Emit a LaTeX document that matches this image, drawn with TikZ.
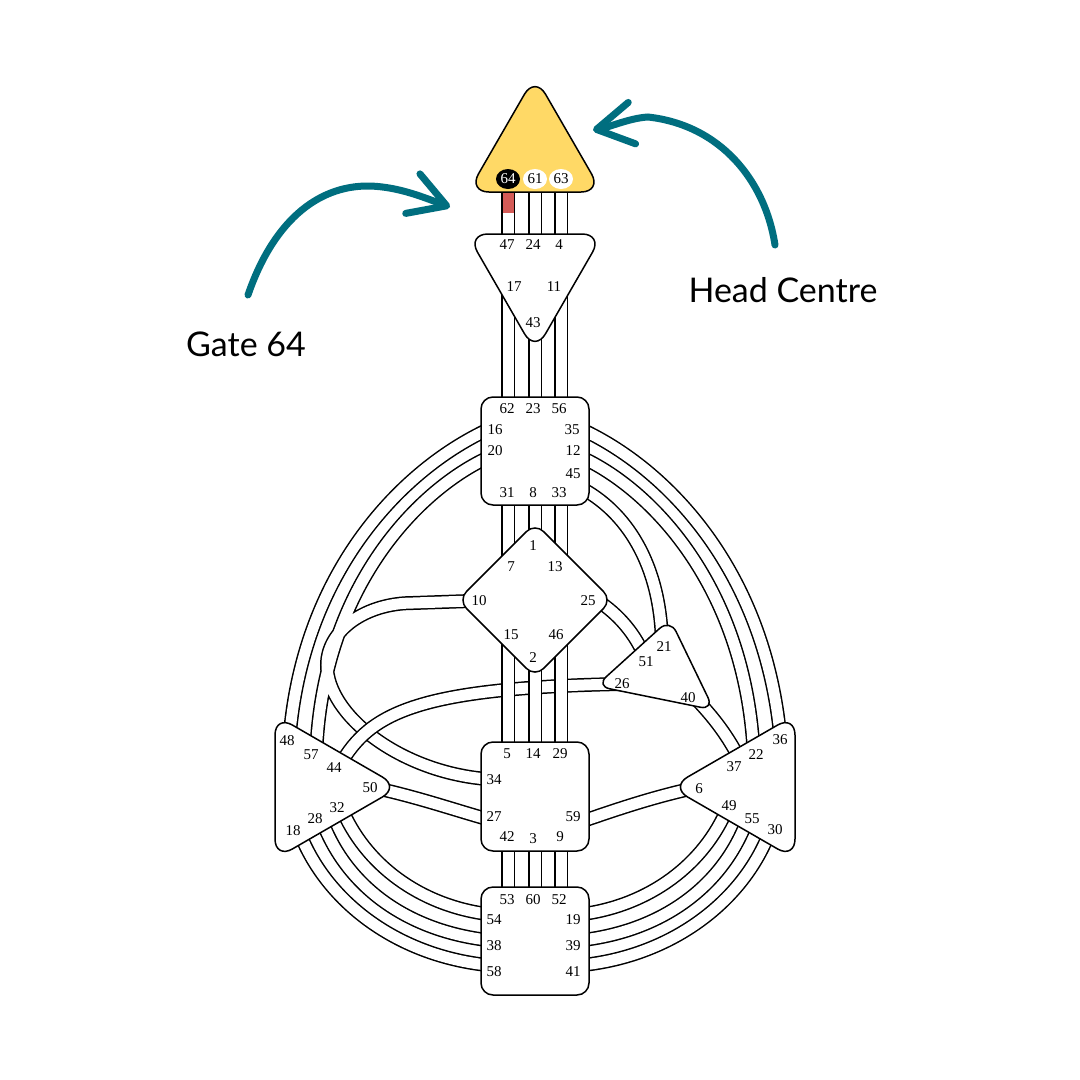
\documentclass[tikz,border=0pt]{standalone}
\usepackage{fontspec}
\setmainfont{Lato}
\newfontfamily\gatefont{Liberation Serif}
\usetikzlibrary{arrows.meta,shapes.geometric}
\definecolor{HeadYellow}{HTML}{FFD966}
\definecolor{Teal}{HTML}{006E7F}
\definecolor{Active}{HTML}{D45B57}
\tikzset{
  chan/.style={draw=black,line width=1.5pt,double=white,double distance=11pt},
  centre/.style={draw=black,line width=1.5pt,fill=white,rounded corners=12pt},
  gate/.style={font=\gatefont\fontsize{15}{15}\selectfont,inner sep=0pt},
  dot/.style={ellipse,inner sep=0pt,minimum width=24pt,minimum height=20pt,
    font=\gatefont\fontsize{15}{15}\selectfont},
  pointer/.style={draw=Teal,line width=7pt,line cap=round,
    -{Straight Barb[round,length=36pt,width=42pt]}},
  callout/.style={font=\fontsize{34}{40}\selectfont,inner sep=0pt}
}

\begin{document}
\begin{tikzpicture}[x=1pt,y=-1pt]
  \fill[white] (0,0) rectangle (1080,1080);
  \useasboundingbox (0,0) rectangle (1080,1080);

  % channel ends, one per gate
  \foreach \g/\x/\y in {64/508/186,61/535/186,63/561/186,
      47/508/240,24/535/240,4/561/240,17/508/280,43/535/320,11/561/280,
      62/508/403,23/535/403,56/561/403,16/487/430,20/487/458,
      35/583/430,12/583/458,45/583/489,31/508/499,8/535/499,33/561/499,
      1/535/560,7/508/575,13/561/575,10/470/601,25/598/601,
      15/508/625,46/561/625,2/535/640,
      21/662/648,51/646/660,26/620/684,40/697/700,
      48/289/745,57/316/760,44/340/765,50/380/789,32/341/807,28/321/818,18/299/831,
      36/781/745,22/754/760,37/742/764,6/690/789,49/728/807,55/748/818,30/770/831,
      5/508/748,14/535/748,29/561/748,34/487/779,27/487/819,59/583/821,
      42/508/845,3/535/845,9/561/845,
      53/508/893,60/535/893,52/561/893,54/487/914,38/487/940,58/487/965,
      19/583/914,39/583/940,41/583/965}
    \coordinate (p\g) at (\x,\y);

  % integration: 20-57 with the loop from 10 to 34
  \draw[chan] (p20) .. controls (415,492) and (320,592) .. (p57)
    (p10) -- (413,603) .. controls (366,603) and (327,630) .. (327,665)
    .. controls (327,715) and (400,772) .. (p34);
  \draw[chan] (p16) .. controls (398,472) and (300,577) .. (p48);
  \draw[chan] (p35) .. controls (672,472) and (768,577) .. (p36);
  \draw[chan] (p12) .. controls (655,492) and (748,592) .. (p22);
  \draw[chan] (p45) .. controls (630,515) and (662,570) .. (p21);
  \draw[chan] (p44) .. controls (370,712) and (420,688) .. (p26);
  \draw[chan] (p25) .. controls (618,614) and (636,634) .. (p51);
  \draw[chan] (p40) .. controls (712,716) and (728,735) .. (p37);
  \draw[chan] (p50) .. controls (420,798) and (455,810) .. (p27);
  \draw[chan] (p6) .. controls (650,798) and (615,810) .. (p59);
  \draw[chan] (p32) .. controls (365,865) and (420,905) .. (p54);
  \draw[chan] (p28) .. controls (345,885) and (405,930) .. (p38);
  \draw[chan] (p18) .. controls (325,900) and (395,955) .. (p58);
  \draw[chan] (p49) .. controls (704,865) and (649,905) .. (p19);
  \draw[chan] (p55) .. controls (724,885) and (664,930) .. (p39);
  \draw[chan] (p30) .. controls (744,900) and (674,955) .. (p41);
  \foreach \a/\b in {64/47,61/24,63/4,17/62,43/23,11/56,31/7,8/1,33/13,
      15/5,2/14,46/29,42/53,3/60,9/52}
    \draw[chan] (p\a) -- (p\b);
  \fill[Active] (502.5,192) rectangle (513.5,212.5);

  % centres (paths start mid-edge so every corner is rounded)
  \draw[centre,fill=HeadYellow,rounded corners=21pt]
    (535,192) -- (468,192) -- (535,76) -- (602,192) -- cycle;
  \draw[centre,rounded corners=21pt]
    (535,234) -- (603,234) -- (535,352) -- (467,234) -- cycle;
  \draw[centre] (481,397) rectangle (589,505);
  \draw[centre] (573.5,561.5) -- (612,600) -- (535,677) -- (458,600) -- (535,523) -- cycle;
  \draw[centre,rounded corners=14pt]
    (692,664.5) -- (714,710) -- (596,686) -- (670,619) -- cycle;
  \draw[centre,rounded corners=20pt]
    (275,787) -- (275,715) -- (399.7,787) -- (275,859) -- cycle;
  \draw[centre,rounded corners=20pt]
    (795,787) -- (795,859) -- (670.3,787) -- (795,715) -- cycle;
  \draw[centre] (481,742) rectangle (589,851);
  \draw[centre] (481,887) rectangle (589,995);

  % gate numbers
  \node[dot,fill=black,text=white] (g64) at (508,179) {64};
  \node[dot,fill=white] (g61) at (535,179) {61};
  \node[dot,fill=white] (g63) at (561,179) {63};
  \foreach \g/\x/\y in {47/507/245,24/533/245,4/559/245,17/514/287,11/554/287,43/533/323,
      62/507/409,23/533/409,56/559/409,16/495/430,35/572/430,20/495/451,12/573/451,
      45/573/474,31/507/493,8/533/493,33/559/493,
      1/533/546,7/511/567,13/555/567,10/479/601,25/588/601,15/511/635,46/556/635,2/533/658,
      21/664/647,51/646/662,26/622/684,40/688/698,
      48/287/741,57/311/755,44/334/768,50/370/788,32/337/808,28/315/819,18/293/831,
      36/780/740,22/756/755,37/734/767,6/699/789,49/729/806,55/752/819,30/775/830,
      5/507/754,14/533/754,29/560/754,34/494/780,27/494/817,59/573/817,
      42/507/837,3/533/839,9/560/837,
      53/507/900,60/533/900,52/559/900,54/494/920,19/573/920,38/494/946,39/573/946,
      58/494/972,41/573/972}
    \node[gate] (g\g) at (\x,\y) {\g};

  % callouts
  \node[callout] (gatelabel) at (246,344) {Gate 64};
  \node[callout] (headlabel) at (783,290) {Head Centre};
  \coordinate (gtail) at (248,295);
  \coordinate (gtip) at (450,207);
  \coordinate (htail) at (775,245);
  \coordinate (htip) at (593,130);
  \draw[pointer] (gtail) .. controls (272,225) and (315,185) .. (370,186)
    .. controls (400,187) and (425,198) .. (gtip);
  \draw[pointer] (htail) .. controls (765,180) and (720,125) .. (648,117)
    .. controls (630,118) and (610,127) .. (htip);
\end{tikzpicture}
\end{document}
